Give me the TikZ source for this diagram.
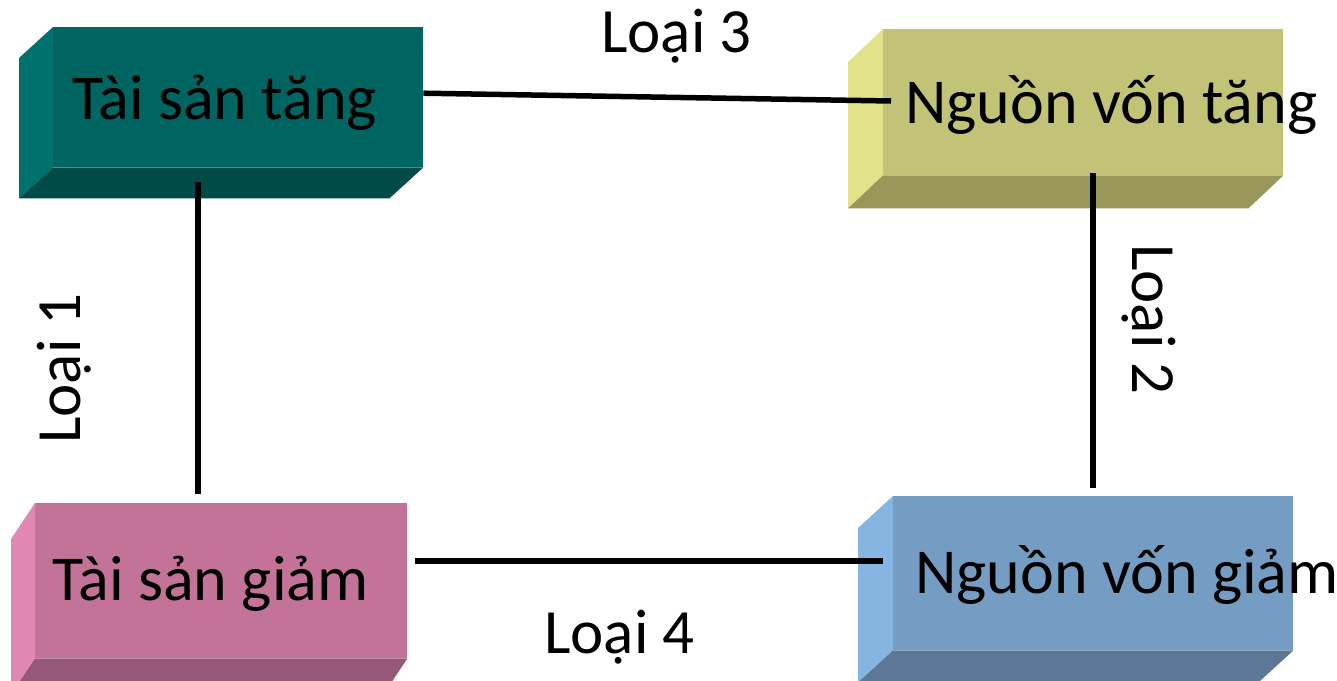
\documentclass[tikz,border=0pt]{standalone}
\usepackage{fontspec}
\setmainfont{Carlito}
\usetikzlibrary{calc}
\definecolor{aF}{RGB}{0,100,97}
\definecolor{aL}{RGB}{0,114,110}
\definecolor{aB}{RGB}{0,74,72}
\definecolor{bF}{RGB}{195,195,120}
\definecolor{bL}{RGB}{226,226,138}
\definecolor{bB}{RGB}{153,150,90}
\definecolor{cF}{RGB}{195,115,152}
\definecolor{cL}{RGB}{224,136,178}
\definecolor{cB}{RGB}{150,88,120}
\definecolor{dF}{RGB}{117,156,195}
\definecolor{dL}{RGB}{135,181,226}
\definecolor{dB}{RGB}{92,120,150}
\tikzset{
  face/.style={anchor=north west, inner sep=0pt, draw=none},
  boxtext/.style={anchor=base west, inner sep=0pt, font=\fontsize{64}{77}\selectfont},
  lbl/.style={anchor=base west, inner sep=0pt, font=\fontsize{63}{76}\selectfont},
  link/.style={line width=5.5pt, black}
}
\begin{document}
\begin{tikzpicture}[x=1pt,y=-1pt]
\useasboundingbox (0,0) rectangle (1337,680);
\clip (0,0) rectangle (1337,680);
% Box 1
\node[face, fill=aF, minimum width=370pt, minimum height=140pt] (b1) at (53,27) {};
\fill[aL] (b1.north west) -- (b1.south west) -- ($(b1.south west)+(-34,31)$) -- ($(b1.north west)+(-34,31)$) -- cycle;
\fill[aB] (b1.south west) -- (b1.south east) -- ($(b1.south east)+(-34,31)$) -- ($(b1.south west)+(-34,31)$) -- cycle;
% Box 2
\node[face, fill=bF, minimum width=400pt, minimum height=146pt] (b2) at (883,29) {};
\fill[bL] (b2.north west) -- (b2.south west) -- ($(b2.south west)+(-35,33)$) -- ($(b2.north west)+(-35,33)$) -- cycle;
\fill[bB] (b2.south west) -- (b2.south east) -- ($(b2.south east)+(-35,33)$) -- ($(b2.south west)+(-35,33)$) -- cycle;
% Box 3
\node[face, fill=cF, minimum width=372pt, minimum height=155pt] (b3) at (35,503) {};
\fill[cL] (b3.north west) -- (b3.south west) -- ($(b3.south west)+(-24,36)$) -- ($(b3.north west)+(-24,36)$) -- cycle;
\fill[cB] (b3.south west) -- (b3.south east) -- ($(b3.south east)+(-24,36)$) -- ($(b3.south west)+(-24,36)$) -- cycle;
% Box 4
\node[face, fill=dF, minimum width=400pt, minimum height=154pt] (b4) at (893,496) {};
\fill[dL] (b4.north west) -- (b4.south west) -- ($(b4.south west)+(-35,32)$) -- ($(b4.north west)+(-35,32)$) -- cycle;
\fill[dB] (b4.south west) -- (b4.south east) -- ($(b4.south east)+(-35,32)$) -- ($(b4.south west)+(-35,32)$) -- cycle;
% Box texts
\node[boxtext] (t1) at (72,119) {Tài sản tăng};
\node[boxtext] (t2) at (905,123) {Nguồn vốn tăng};
\node[boxtext] (t3) at (52,600) {Tài sản giảm};
\node[boxtext] (t4) at (915,593) {Nguồn vốn giảm};
% Connectors
\coordinate (l3a) at ($(b1.east)+(0,-4)$);
\coordinate (l3b) at (891,101);
\draw[link] (l3a) -- (l3b);
\coordinate (l1a) at ($(b1.south west)+(145,15)$);
\coordinate (l1b) at ($(b3.north west)+(163,-9)$);
\draw[link] (l1a) -- (l1b);
\coordinate (l2a) at ($(b2.south west)+(210,-2)$);
\coordinate (l2b) at ($(b4.north west)+(200,-8)$);
\draw[link] (l2a) -- (l2b);
\coordinate (l4a) at ($(b3.north east)+(8,58)$);
\coordinate (l4b) at (883,561);
\draw[link] (l4a) -- (l4b);
% Labels
\node[lbl] (n3) at (601,52) {Loại 3};
\node[lbl] (n4) at (544,653) {Loại 4};
\node[lbl, rotate=90] (n1) at (80,444) {Loại 1};
\node[lbl, rotate=-90] (n2) at (1132,244) {Loại 2};
\end{tikzpicture}
\end{document}
